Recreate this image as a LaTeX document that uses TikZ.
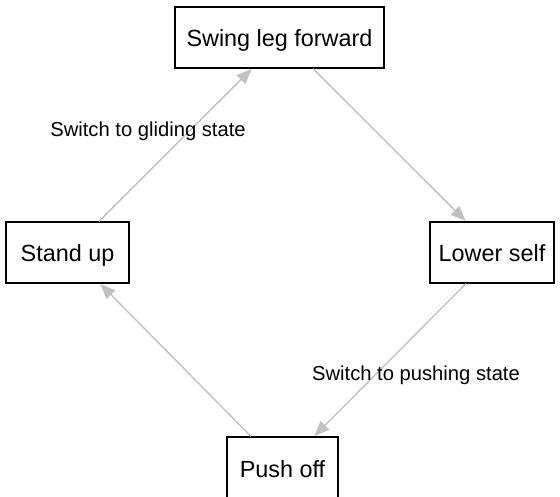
\documentclass[tikz,border=0pt]{standalone}
\usepackage{fontspec}
\setmainfont{Liberation Sans}
\usetikzlibrary{arrows.meta}
\definecolor{edgegray}{HTML}{C0C0C0}
\begin{document}
\begin{tikzpicture}[x=1pt,y=-1pt,
  statebox/.style={draw=black,line width=1.3pt,fill=white,inner sep=0pt,
    minimum height=61pt,text height=24pt,text depth=5pt,
    font=\fontsize{23.4}{28}\selectfont},
  transition/.style={draw=edgegray,line width=1.3pt,
    -{Triangle[length=15pt,width=12pt]},shorten >=0.5pt},
  edgelabel/.style={anchor=base,inner sep=0pt,font=\fontsize{20.2}{24}\selectfont}]
\useasboundingbox (0,0) rectangle (560,497);
\fill[white] (0,0) rectangle (560,497);

\node[statebox,minimum width=209pt] (swing) at (279.5,37.5) {Swing leg forward};
\node[statebox,minimum width=123pt] (stand) at (67.5,252.5) {Stand up};
\node[statebox,minimum width=124pt] (lower) at (492,252.5) {Lower self};
\node[statebox,minimum width=111pt] (push)  at (282.5,467.5) {Push off};

\draw[transition] ([xshift=31.5pt]stand.north) -- ([xshift=-27.5pt]swing.south);
\draw[transition] ([xshift=33.5pt]swing.south) -- ([xshift=-26pt]lower.north);
\draw[transition] ([xshift=-26pt]lower.south) -- ([xshift=31.5pt]push.north);
\draw[transition] ([xshift=-31.5pt]push.north) -- ([xshift=32.5pt]stand.south);

\node[edgelabel] (glide) at (148,137) {Switch to gliding state};
\node[edgelabel] (pushlbl) at (416,381) {Switch to pushing state};
\end{tikzpicture}
\end{document}
